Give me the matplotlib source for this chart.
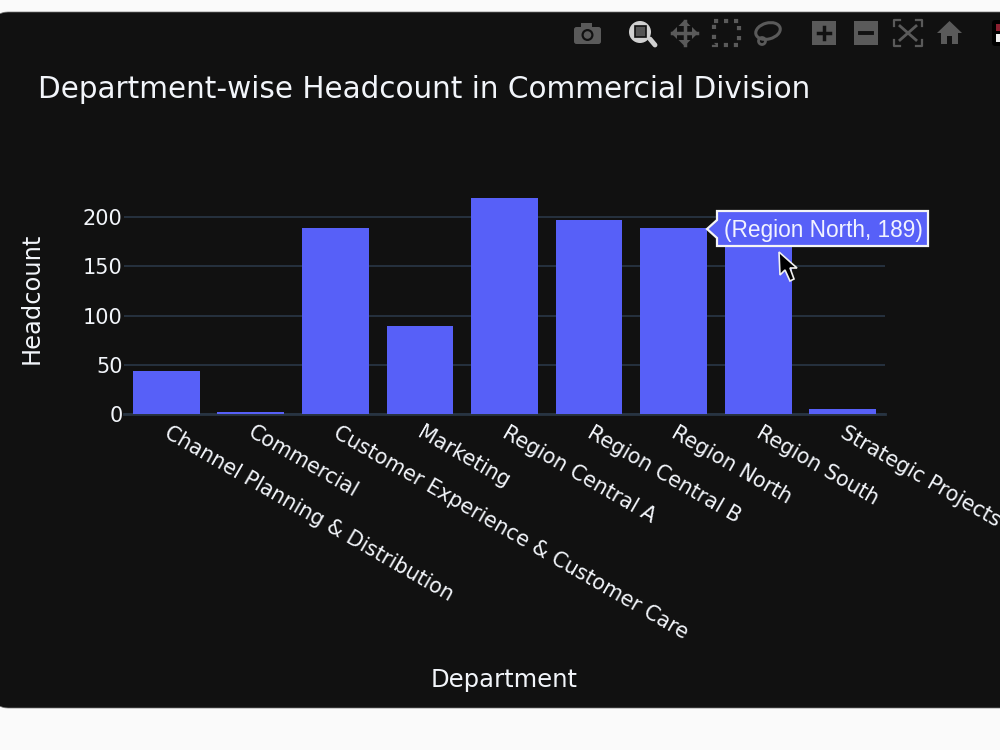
import matplotlib
matplotlib.use("Agg")
import matplotlib.pyplot as plt
from matplotlib.patches import FancyBboxPatch, Polygon, Rectangle, Circle, Ellipse

departments = ["Channel Planning & Distribution", "Commercial", "Customer Experience & Customer Care",
               "Marketing", "Region Central A", "Region Central B", "Region North", "Region South",
               "Strategic Projects"]
headcount = [44, 2, 189, 89, 219, 197, 189, 186, 5]
y_ticks = [0, 50, 100, 150, 200]

PANEL = "#111111"
BAR = "#5760f8"
GRID = "#283442"
ICON = "#5a5a5a"

fig = plt.figure(figsize=(10, 7.5), dpi=100, facecolor="#fafafa")

# page layer in pixel coordinates, dark card sits on it
bg = fig.add_axes([0, 0, 1, 1], zorder=0)
bg.set_xlim(0, 1000)
bg.set_ylim(750, 0)
bg.axis("off")
bg.add_patch(FancyBboxPatch((-6, 12), 1100, 696, boxstyle="round,pad=0,rounding_size=14",
                            fc=PANEL, ec="#777777", lw=0.5))

# bar chart
ax = fig.add_axes([124 / 1000, 1 - 414 / 750, 761 / 1000, 227 / 750], zorder=1)
ax.set_facecolor("none")
ax.bar(range(len(departments)), headcount, width=0.79, color=BAR, zorder=3)
ax.set_xlim(-0.5, 8.5)
ax.set_ylim(0, 230.5)
ax.set_yticks(y_ticks)
ax.set_xticks(range(len(departments)))
ax.set_xticklabels([])
# slanted category labels, offset from their ticks
for i, name in enumerate(departments):
    ax.annotate(name, xy=(i, 0), xycoords=ax.get_xaxis_transform(), xytext=(3.2, -6),
                textcoords="offset points", rotation=-30, ha="left", va="top", rotation_mode="anchor",
                color="#f2f5fa", fontsize=14.85, annotation_clip=False)
ax.grid(axis="y", color=GRID, lw=1.3, zorder=1)
ax.set_axisbelow(True)
for s in ["top", "right", "left"]:
    ax.spines[s].set_visible(False)
ax.spines["bottom"].set_color(GRID)
ax.spines["bottom"].set_linewidth(2)
ax.tick_params(axis="x", length=0)
ax.tick_params(axis="y", length=0, pad=1, labelcolor="#f2f5fa", labelsize=15)

fig.text(38 / 1000, 1 - 89 / 750, "Department-wise Headcount in Commercial Division",
         color="#f2f5fa", fontsize=21.28, va="center", ha="left")
fig.text(504 / 1000, 1 - 680 / 750, "Department", color="#f2f5fa", fontsize=17.5, va="center", ha="center")
fig.text(32 / 1000, 1 - 298 / 750, "Headcount", color="#f2f5fa", fontsize=17.4, va="center", ha="center",
         rotation=90)

# overlay: modebar, hover label, mouse pointer
top = fig.add_axes([0, 0, 1, 1], zorder=2)
top.set_xlim(0, 1000)
top.set_ylim(750, 0)
top.axis("off")
top.patch.set_alpha(0)

# camera
top.add_patch(FancyBboxPatch((574, 27), 27, 17, boxstyle="round,pad=0,rounding_size=2.5", fc=ICON, ec="none"))
top.add_patch(Rectangle((581, 23), 11, 5, fc=ICON, ec="none"))
top.add_patch(Circle((587.5, 35), 6, fc=PANEL, ec="none"))
top.add_patch(Circle((587.5, 35), 3.8, fc=ICON, ec="none"))

# zoom, active
top.plot([650, 655], [39, 45], color="#d0d0d0", lw=3.5, solid_capstyle="round")
top.add_patch(Circle((640, 32), 11, fc="#d0d0d0", ec="none"))
top.add_patch(Rectangle((635, 26), 10.5, 10.5, fc="#555555", ec=PANEL, lw=1.2))

# pan
top.plot([672, 697], [33, 33], color=ICON, lw=2.5)
top.plot([684.5, 684.5], [21, 45], color=ICON, lw=2.5)
for pts in ([(671, 33), (677, 27), (677, 39)], [(698, 33), (692, 27), (692, 39)],
            [(684.5, 20), (678.5, 26), (690.5, 26)], [(684.5, 46), (678.5, 40), (690.5, 40)]):
    top.add_patch(Polygon(pts, fc=ICON, ec="none"))

# box select
top.add_patch(Rectangle((714, 21), 25, 24, fc="none", ec=ICON, lw=3, ls=(0, (1, 1.4))))

# lasso
top.add_patch(Ellipse((768, 31), 25, 16, angle=-15, fc="none", ec=ICON, lw=2.2))
top.add_patch(Circle((762, 41), 3.5, fc="none", ec=ICON, lw=2))

# zoom in / out
top.add_patch(Rectangle((812, 21), 24, 24, fc=ICON, ec="none"))
top.plot([818, 830], [33, 33], color=PANEL, lw=2.5)
top.plot([824, 824], [27, 39], color=PANEL, lw=2.5)
top.add_patch(Rectangle((854, 21), 24, 24, fc=ICON, ec="none"))
top.plot([860, 872], [33, 33], color=PANEL, lw=2.8)

# autoscale: corner brackets with a cross inside
for x0, y0, dx, dy in [(894, 20, 1, 1), (922, 20, -1, 1), (894, 46, 1, -1), (922, 46, -1, -1)]:
    top.plot([x0, x0, x0 + 6 * dx], [y0 + 6 * dy, y0, y0], color=ICON, lw=1.6)
top.plot([900, 916], [26, 40], color=ICON, lw=2)
top.plot([916, 900], [26, 40], color=ICON, lw=2)

# home
top.add_patch(Polygon([(937, 33), (949.5, 21), (962, 33), (958, 33), (958, 44), (952, 44), (952, 36),
                       (947, 36), (947, 44), (941, 44), (941, 33)], fc=ICON, ec="none"))

# small extension badge at the right edge
top.add_patch(FancyBboxPatch((992, 20), 14, 26, boxstyle="round,pad=0,rounding_size=3", fc="#000000", ec="none"))
top.add_patch(Rectangle((996, 24), 4, 7, fc="#8a2030", ec="none"))
top.add_patch(Rectangle((996, 34), 4, 8, fc="#f0f0f0", ec="none"))

# hover label
top.add_patch(Polygon([(707, 229), (717, 220), (717, 211), (928, 211), (928, 246), (717, 246), (717, 238)],
                      fc=BAR, ec="#f5f5f5", lw=1.6, joinstyle="miter"))
top.text(724, 230, f"({departments[6]}, {headcount[6]})", color="#f2f3ff", fontsize=16.3,
         family="Liberation Sans", va="center", ha="left")

# mouse pointer
top.add_patch(Polygon([(779, 252), (780, 275), (785, 270), (790, 281), (794, 279), (790, 268), (797, 268)],
                      fc="#000000", ec="#f0f0f0", lw=1.2, joinstyle="miter"))

fig.savefig("out.png", dpi=100, facecolor=fig.get_facecolor())
